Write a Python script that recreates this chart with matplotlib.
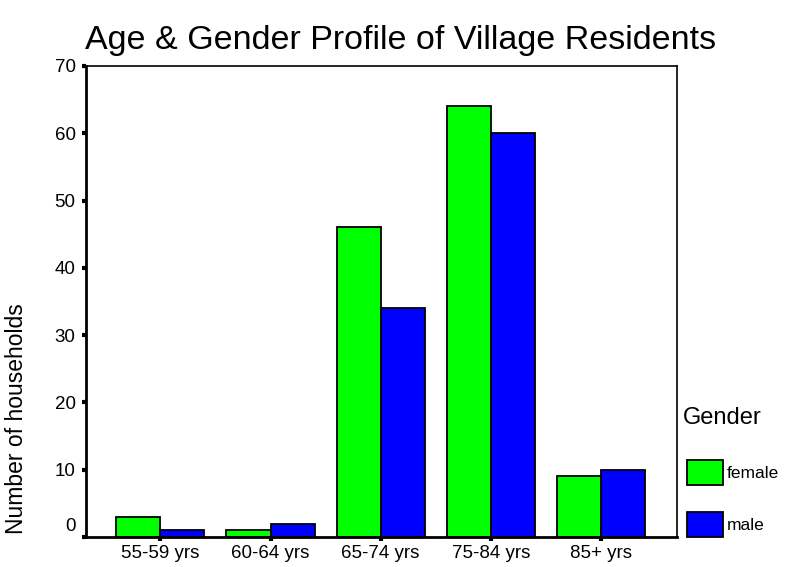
import matplotlib
matplotlib.use("Agg")
import matplotlib.pyplot as plt
import matplotlib.transforms as mtransforms
from matplotlib.patches import Rectangle
import numpy as np

plt.rcParams["font.family"] = ["Liberation Sans", "DejaVu Sans"]

age_groups = ["55-59 yrs", "60-64 yrs", "65-74 yrs", "75-84 yrs", "85+ yrs"]
female = [3, 1, 46, 64, 9]
male = [1, 2, 34, 60, 10]
y_ticks = [0, 10, 20, 30, 40, 50, 60, 70]
genders = ["female", "male"]

GREEN = "#00ff00"
BLUE = "#0000ff"
W, H = 787, 567


def px(x, y):
    # pixel position (from top-left) -> figure fraction
    return x / W, 1 - y / H


fig = plt.figure(figsize=(7.87, 5.67), dpi=100)
ax = fig.add_axes([0.1093, 0.0529, 0.7509, 0.8307])

x = np.arange(len(age_groups))
width = 0.4
ax.bar(x - width / 2, female, width, color=GREEN, edgecolor="black", linewidth=1.3)
ax.bar(x + width / 2, male, width, color=BLUE, edgecolor="black", linewidth=1.3)

ax.set_xlim(-0.675, 4.69)
ax.set_ylim(0, 70)
ax.set_xticks(x)
ax.set_xticklabels(age_groups, fontsize=13.5)
ax.set_yticks(y_ticks)
ax.set_yticklabels([str(v) for v in y_ticks], fontsize=13.5)
ax.tick_params(axis="both", length=3, width=3)
ax.tick_params(axis="x", pad=3)
ax.tick_params(axis="y", pad=4.5)

# SPSS puts the zero label a bit above the axis line
zero_lbl = ax.get_yticklabels()[0]
zero_lbl.set_transform(zero_lbl.get_transform() + mtransforms.ScaledTranslation(0, 0.13, fig.dpi_scale_trans))

for side in ["left", "bottom"]:
    ax.spines[side].set_linewidth(2)
for side in ["top", "right"]:
    ax.spines[side].set_linewidth(1.2)

lx, ly = px(17, 419)
fig.text(lx, ly, "Number of households", rotation=90, fontsize=16.5, ha="center", va="center")

tx, ty = px(401, 40)
fig.text(tx, ty, "Age & Gender Profile of Village Residents", fontsize=24.5, ha="center", va="center")

# legend drawn by hand, SPSS style
gx, gy = px(683, 418)
fig.text(gx, gy, "Gender", fontsize=17, ha="left", va="center")
for i, (name, col) in enumerate(zip(genders, [GREEN, BLUE])):
    top = 460 + i * 52
    rx, ry = px(687, top + 25)
    fig.add_artist(Rectangle((rx, ry), 36 / W, 25 / H, transform=fig.transFigure,
                             facecolor=col, edgecolor="black", linewidth=1.3))
    tx2, ty2 = px(727, top + 13)
    fig.text(tx2, ty2, name, fontsize=12.5, ha="left", va="center")

fig.savefig("out.png", dpi=100)
